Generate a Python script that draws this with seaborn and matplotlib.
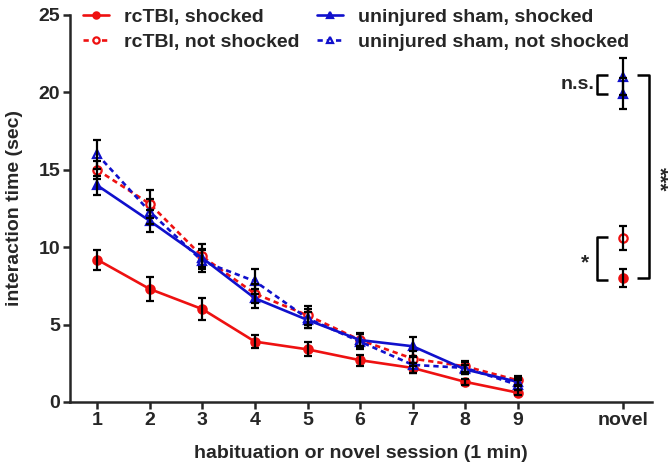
import matplotlib
matplotlib.use("Agg")
import matplotlib.pyplot as plt
import numpy as np
import pandas as pd
import seaborn as sns

# --- data ---
sessions = [1, 2, 3, 4, 5, 6, 7, 8, 9]
novel_pos = 11

tbi_shock = [9.2, 7.3, 6.0, 3.9, 3.4, 2.7, 2.2, 1.3, 0.6]
tbi_shock_err = [0.65, 0.8, 0.7, 0.4, 0.45, 0.35, 0.35, 0.2, 0.15]
tbi_shock_novel, tbi_shock_novel_err = 8.0, 0.6

tbi_noshock = [15.0, 12.8, 9.4, 7.0, 5.6, 4.0, 2.8, 2.3, 1.4]
tbi_noshock_err = [0.6, 0.9, 0.8, 0.6, 0.6, 0.45, 0.5, 0.35, 0.3]
tbi_noshock_novel, tbi_noshock_novel_err = 10.6, 0.8

sham_shock = [14.0, 11.7, 9.3, 6.7, 5.3, 4.0, 3.6, 2.1, 1.3]
sham_shock_err = [0.6, 0.7, 0.6, 0.6, 0.5, 0.4, 0.6, 0.3, 0.25]
sham_shock_novel, sham_shock_novel_err = 19.9, 1.0

sham_noshock = [16.0, 12.3, 9.1, 7.8, 5.4, 3.9, 2.4, 2.2, 1.1]
sham_noshock_err = [0.95, 0.8, 0.7, 0.8, 0.6, 0.5, 0.5, 0.4, 0.3]
sham_noshock_novel, sham_noshock_novel_err = 21.0, 1.2

xtick_labels = ["1", "2", "3", "4", "5", "6", "7", "8", "9", "novel"]

sns.set_style("ticks")
plt.rcParams["font.family"] = ["Liberation Sans", "DejaVu Sans"]
plt.rcParams["font.weight"] = "bold"

RED = "#ee1111"
BLUE = "#1010cc"
FS = 14

groups = [
    ("rcTBI, shocked", tbi_shock, tbi_shock_err, tbi_shock_novel, tbi_shock_novel_err, RED, "-", "o", True),
    ("rcTBI, not shocked", tbi_noshock, tbi_noshock_err, tbi_noshock_novel, tbi_noshock_novel_err, RED, (0, (2, 1.5)), "o", False),
    ("uninjured sham, shocked", sham_shock, sham_shock_err, sham_shock_novel, sham_shock_novel_err, BLUE, "-", "^", True),
    ("uninjured sham, not shocked", sham_noshock, sham_noshock_err, sham_noshock_novel, sham_noshock_novel_err, BLUE, (0, (2, 1.5)), "^", False),
]

fig = plt.figure(figsize=(6.69, 4.70), dpi=100)
ax = fig.add_axes([0.1046, 0.1447, 0.870, 0.8234])

handles = []
for label, vals, errs, nv, ne, color, ls, mk, filled in groups:
    df = pd.DataFrame({"session": sessions, "time": vals})
    mfc = color if filled else "white"
    sns.lineplot(data=df, x="session", y="time", ax=ax, color=color,
                 linestyle=ls, linewidth=1.9, marker=mk, markersize=6,
                 markerfacecolor=mfc, markeredgecolor=color,
                 markeredgewidth=1.6, zorder=2)
    ax.errorbar(sessions, vals, yerr=errs, fmt="none", ecolor="black",
                elinewidth=1.6, capsize=3, capthick=1.6, zorder=3)
    ax.plot([novel_pos], [nv], linestyle="none", marker=mk, markersize=6,
            markerfacecolor=mfc, markeredgecolor=color, markeredgewidth=1.6,
            zorder=2)
    ax.errorbar([novel_pos], [nv], yerr=[ne], fmt="none", ecolor="black",
                elinewidth=1.6, capsize=3, capthick=1.6, zorder=3)
    h, = ax.plot([], [], color=color, linestyle=ls, linewidth=1.9, marker=mk,
                 markersize=4.5, markerfacecolor=mfc, markeredgecolor=color,
                 markeredgewidth=1.6)
    handles.append((h, label))

# significance brackets
def bracket(x0, x1, y0, y1):
    ax.plot([x1, x0, x0, x1], [y0, y0, y1, y1], color="black", lw=1.8,
            clip_on=False, solid_capstyle="butt")

bracket(10.51, 10.71, 21.1, 19.9)
ax.text(10.45, 20.5, "n.s.", ha="right", va="center", fontsize=FS, fontweight="bold")
bracket(10.51, 10.71, 10.66, 7.9)
ax.text(10.27, 9.0, "*", ha="center", va="center", fontsize=FS + 1, fontweight="bold")
bracket(11.49, 11.27, 21.1, 8.0)
ax.text(11.68, 14.4, "***", ha="center", va="center", rotation=-90,
        fontsize=FS + 1, fontweight="bold", clip_on=False)

ax.set_xlim(0.484, 11.55)
ax.set_ylim(0, 25)
ax.set_xticks(sessions + [novel_pos])
ax.set_xticklabels(xtick_labels, fontsize=FS, fontweight="bold")
ax.set_yticks([0, 5, 10, 15, 20, 25])
ax.set_yticklabels(["0", "5", "10", "15", "20", "25"], fontsize=FS, fontweight="bold")
ax.tick_params(width=1.8, length=5, pad=2)
ax.set_xlabel("habituation or novel session (1 min)", fontsize=FS, fontweight="bold", labelpad=12)
ax.set_ylabel("interaction time (sec)", fontsize=FS, fontweight="bold", labelpad=11)
for s in ["left", "bottom"]:
    ax.spines[s].set_linewidth(1.8)
sns.despine(ax=ax)

ax.legend([h for h, _ in handles], [l for _, l in handles], ncol=2,
          loc="upper left", bbox_to_anchor=(83 / 669, 1 - 8 / 470), bbox_transform=fig.transFigure,
          frameon=False, fontsize=FS, handlelength=1.35, handletextpad=0.75,
          columnspacing=0.9, labelspacing=0.4, borderaxespad=0, borderpad=0)

fig.savefig("out.png", dpi=100)
